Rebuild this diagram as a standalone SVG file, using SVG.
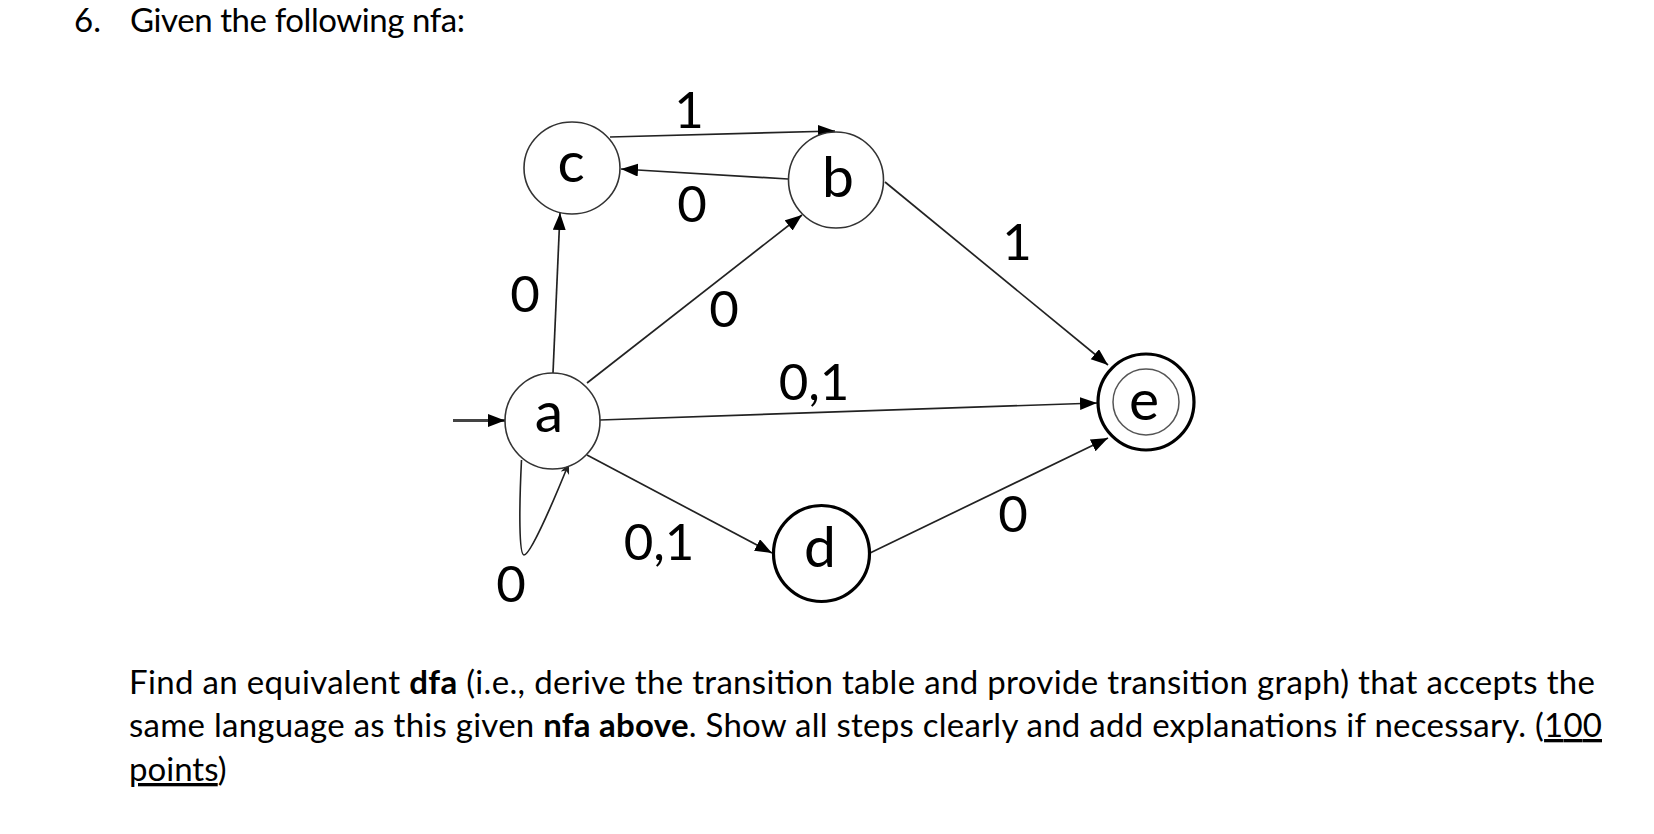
<svg xmlns="http://www.w3.org/2000/svg" width="1654" height="834" viewBox="0 0 1654 834">
<style>
  .txt { font-family: Lato, "Open Sans", "Liberation Sans", sans-serif; fill: #000; }
  .para { font-size: 33px; }
  .lbl { font-family: Lato, "Open Sans", "Liberation Sans", sans-serif; font-size: 51px; fill: #000; text-anchor: middle; }
  .nl { font-family: Lato, "Open Sans", "Liberation Sans", sans-serif; font-size: 57px; fill: #000; text-anchor: middle; }
  .st { fill: #fff; stroke: #333; stroke-width: 1.6; }
  .stk { fill: #fff; stroke: #000; stroke-width: 3.2; }
  .edge { fill: none; stroke: #222; stroke-width: 1.7; marker-end: url(#ah); }
  .bold { font-weight: bold; }
</style>
<defs>
  <marker id="ah" markerUnits="userSpaceOnUse" markerWidth="18" markerHeight="14" refX="17" refY="6.5" orient="auto">
    <path d="M0,0 L17,6.5 L0,13 z" fill="#000"/>
  </marker>
  <marker id="ahs" markerUnits="userSpaceOnUse" markerWidth="12" markerHeight="10" refX="11" refY="4.5" orient="auto">
    <path d="M0,0 L11,4.5 L0,9 L3,4.5 z" fill="#222"/>
  </marker>
</defs>
<rect width="1654" height="834" fill="#fff"/>

<g id="title">
  <text class="txt para" x="74" y="32">6.</text>
  <text class="txt para" x="130" y="32" textLength="335" lengthAdjust="spacing">Given the following nfa:</text>
</g>

<g id="connectors">
  <line class="edge" x1="453" y1="420.5" x2="505" y2="420.5" style="stroke-width:3;stroke:#444"/>
  <line class="edge" x1="553" y1="373" x2="560" y2="213"/>
  <line class="edge" x1="610" y1="137" x2="835" y2="131"/>
  <line class="edge" x1="788" y1="179" x2="621" y2="169"/>
  <line class="edge" x1="587" y1="383" x2="802" y2="215"/>
  <line class="edge" x1="885" y1="182" x2="1108" y2="365"/>
  <line class="edge" x1="600" y1="420" x2="1097" y2="403"/>
  <line class="edge" x1="587" y1="455" x2="772" y2="553"/>
  <line class="edge" x1="870" y1="553" x2="1108" y2="438"/>
  <path d="M521.5,460 C519,510 519,555 524,555 C530,555 552,505 569,463" fill="none" stroke="#222" stroke-width="1.6" marker-end="url(#ahs)"/>
</g>

<g id="node-c">
  <ellipse class="st" cx="572" cy="168" rx="48" ry="46"/>
  <text class="nl" x="571" y="182">c</text>
</g>
<g id="node-b">
  <ellipse class="st" cx="836" cy="180" rx="47.5" ry="48"/>
  <text class="nl" x="838" y="197">b</text>
</g>
<g id="node-a">
  <ellipse class="st" cx="552.5" cy="421" rx="47.5" ry="48"/>
  <text class="nl" x="549" y="432">a</text>
</g>
<g id="node-d">
  <circle class="stk" cx="821.5" cy="553.5" r="48"/>
  <text class="nl" x="820" y="567">d</text>
</g>
<g id="node-e">
  <circle class="stk" cx="1146" cy="402" r="48"/>
  <circle cx="1146" cy="402" r="33" fill="none" stroke="#555" stroke-width="1.5"/>
  <text class="nl" x="1144" y="420">e</text>
</g>

<g id="labels">
  <text class="lbl" x="689" y="128">1</text>
  <text class="lbl" x="692" y="222">0</text>
  <text class="lbl" x="525" y="312">0</text>
  <text class="lbl" x="724" y="327">0</text>
  <text class="lbl" x="814" y="400">0,1</text>
  <text class="lbl" x="659" y="560">0,1</text>
  <text class="lbl" x="511" y="602">0</text>
  <text class="lbl" x="1017" y="260">1</text>
  <text class="lbl" x="1013" y="532">0</text>
</g>

<g id="question">
  <text class="txt para" x="129" y="694" textLength="1466" lengthAdjust="spacing">Find an equivalent <tspan class="bold">dfa</tspan> (i.e., derive the transition table and provide transition graph) that accepts the</text>
  <text class="txt para" x="129" y="737" textLength="1473" lengthAdjust="spacing">same language as this given <tspan class="bold">nfa above</tspan>. Show all steps clearly and add explanations if necessary. (<tspan text-decoration="underline">100</tspan></text>
  <text class="txt para" x="129" y="781"><tspan text-decoration="underline">points</tspan>)</text>
</g>
</svg>
